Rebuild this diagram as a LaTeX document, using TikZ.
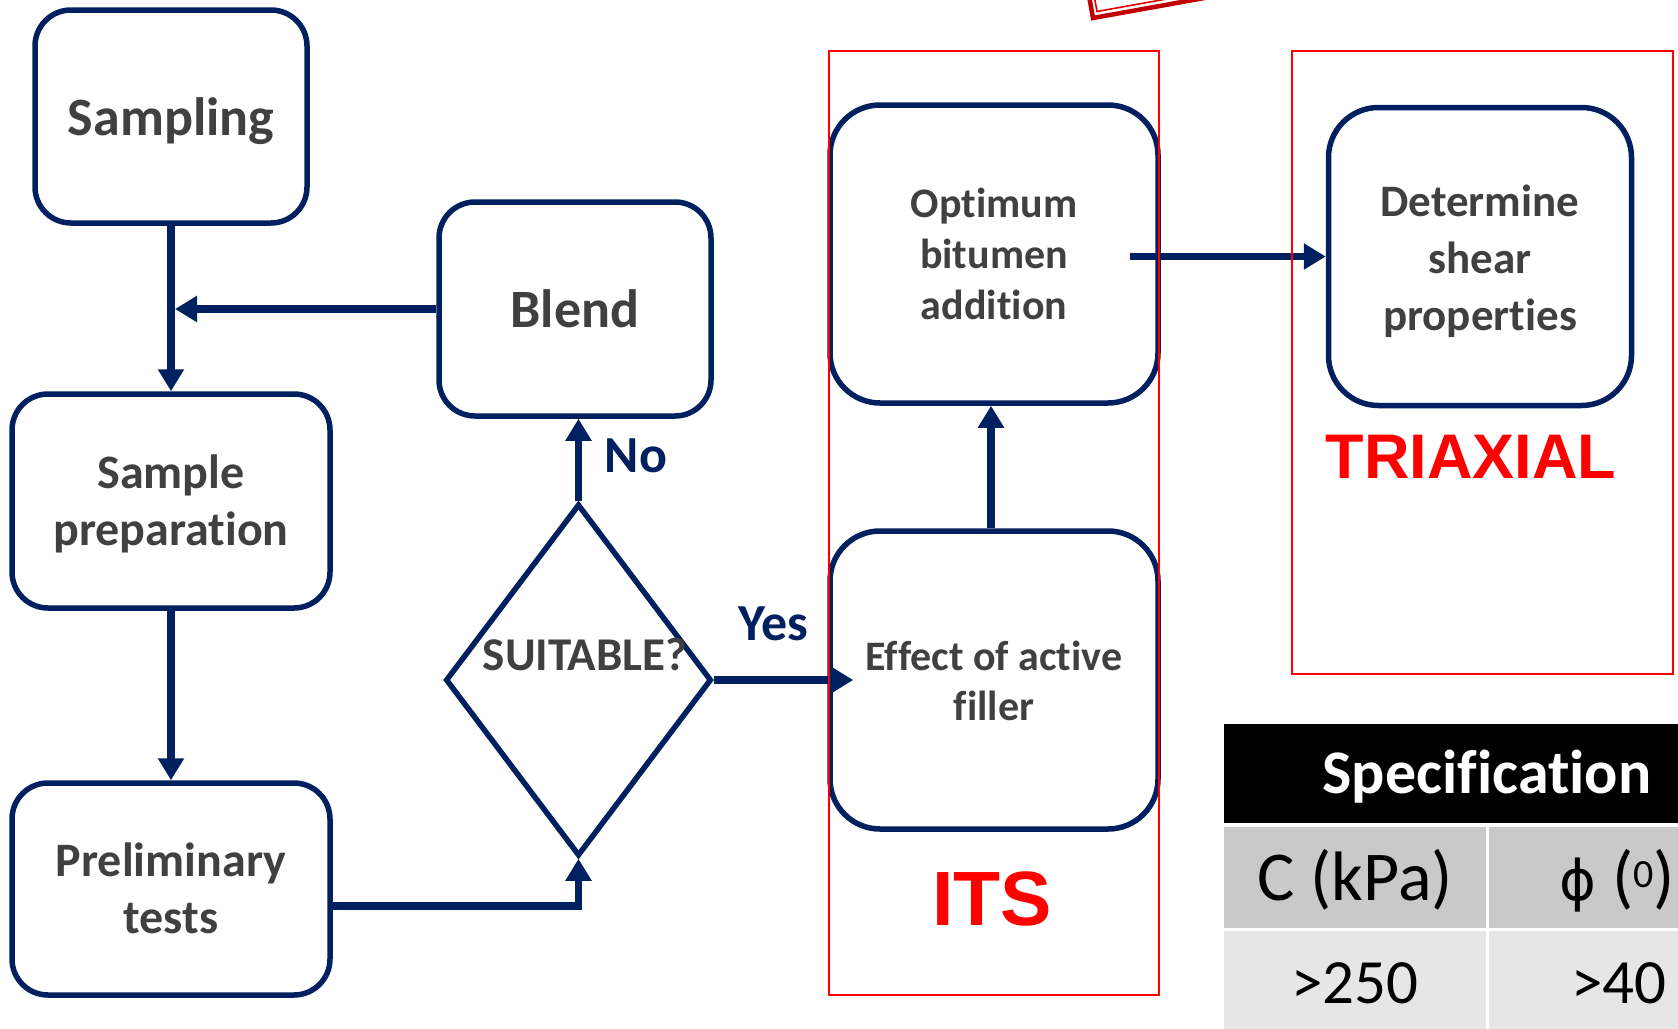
\documentclass[tikz,border=0pt]{standalone}
\usepackage{fontspec}
\setmainfont{Carlito}[Ligatures=NoCommon]
\newfontfamily\arialfont{Liberation Sans}
\newfontfamily\dejavu{DejaVu Sans}
\usetikzlibrary{arrows.meta,shapes.geometric,calc}
\definecolor{navy}{HTML}{002060}
\definecolor{txtgray}{HTML}{404040}
\definecolor{hdrgray}{HTML}{C9C9C9}
\definecolor{rowgray}{HTML}{E6E6E6}
\definecolor{dkred}{HTML}{C00000}
\newcommand{\boxtext}[4]{\fontsize{#2}{#3}\selectfont\raisebox{#1}[0pt][0pt]{\begin{tabular}[t]{@{}c@{}}#4\end{tabular}}}
\newcommand{\nolig}{\kern0pt{}}
\begin{document}
\begin{tikzpicture}[x=1pt,y=-1pt,
  rbox/.style={draw=navy, line width=5.5pt, rounded corners=#1, fill=white, inner sep=0pt, text=txtgray, font=\bfseries},
  rbox/.default=36pt,
  decision/.style={draw=navy, line width=5.5pt, diamond, fill=white, inner sep=0pt, minimum width=266pt, minimum height=352pt},
  arr/.style={draw=navy, line width=7.5pt, -{Triangle[length=22pt,width=25pt]}},
  redframe/.style={draw=red, line width=1.7pt, inner sep=0pt},
  answer/.style={text=navy, font=\bfseries\fontsize{52}{52}\selectfont, anchor=base, inner sep=0pt},
  testname/.style={text=red, font=\arialfont\bfseries\fontsize{#1}{#1}\selectfont, anchor=base, inner sep=0pt},
  cell/.style={anchor=base, inner sep=0pt, font=\fontsize{#1}{#1}\selectfont}
]
\useasboundingbox (0,0) rectangle (1678,1028);

% partial shape at top edge
\begin{scope}
  \clip (0,0) rectangle (1678,1028);
  \draw[dkred, line width=4.5pt, line join=miter] (1057.6,-178.8) -- (1093,18) -- (1486.6,-52.8);
  \draw[red!90!black, line width=1.6pt, line join=miter] (1079.3,-86.2) -- (1097,11.5) -- (1392.2,-41.6);
\end{scope}

% boxes
\node[rbox, minimum width=272pt, minimum height=213pt] (samp) at (171,116.5) {\boxtext{-18.5pt}{54}{65}{Sampling}};
\node[rbox, minimum width=318pt, minimum height=214pt] (prep) at (171,501) {\boxtext{13pt}{48}{57}{Sample\\preparat\nolig ion}};
\node[rbox, minimum width=318pt, minimum height=212pt] (prel) at (171,889) {\boxtext{13pt}{48}{57}{Preliminary\\tests}};
\node[rbox, minimum width=272pt, minimum height=214pt] (blend) at (575,309) {\boxtext{-18pt}{54}{65}{Blend}};
\node[rbox=50pt, minimum width=328pt, minimum height=298pt] (opt) at (994,254) {\boxtext{37pt}{42}{51}{Opt\nolig imum\\bitumen\\addit\nolig ion}};
\node[rbox=50pt, minimum width=328pt, minimum height=298pt] (eff) at (994,680) {\boxtext{10pt}{42}{50}{Effect of act\nolig ive\\f\nolig iller}};
\node[rbox=50pt, minimum width=303pt, minimum height=298pt] (det) at (1480,256.5) {\boxtext{40.5pt}{45}{57}{Determine\\shear\\propert\nolig ies}};
\node[decision] (suit) at (578.5,680) {};
\node[text=txtgray, font=\bfseries\fontsize{47}{47}\selectfont, inner sep=0pt] (suittxt) at (585,654) {SUITABLE?};

% connectors
\coordinate (jn) at (175,309);
\draw[arr] (samp.south) -- (prep.north);
\draw[arr] (blend.west) -- (jn);
\draw[arr] (prep.south) -- (prel.north);
\draw[arr] ($(prel.east)+(0,17)$) -| (suit.south);
\draw[arr] (suit.north) -- (suit.north |- blend.south);
\draw[arr] (suit.east) -- ($(eff.west)+(26,0)$);
\draw[arr] ([xshift=-3pt]eff.north) -- ([xshift=-3pt]opt.south);
\coordinate (os) at ([xshift=-31pt]opt.east);
\draw[arr] (os |- det.west) -- (det.west);

\node[answer] (no) at (636,472) {No};
\node[answer] (yes) at (773,640) {Yes};

% test frames
\node[redframe, minimum width=330pt, minimum height=944pt] (itsframe) at (994,523) {};
\node[redframe, minimum width=381pt, minimum height=623pt] (triframe) at (1482.5,362.5) {};
\node[testname=77] (its) at (992,925) {ITS};
\node[testname=63] (tri) at (1471,478) {TRIAXIAL};

% specification table
\begin{scope}
  \clip (0,0) rectangle (1678,1028);
  \fill[black] (1224,724) rectangle (1760,823);
  \fill[hdrgray] (1224,827) rectangle (1486,928);
  \fill[hdrgray] (1489,827) rectangle (1760,928);
  \fill[rowgray] (1224,931) rectangle (1486,1040);
  \fill[rowgray] (1489,931) rectangle (1760,1040);
  \node[anchor=base, inner sep=0pt, text=white, font={\bfseries\fontsize{62}{62}\selectfont}] (spec) at (1487,793) {Speci\nolig f\nolig icat\nolig ion};
  \node[cell=70] (ckpa) at (1355,900) {C (kPa)};
  \node[cell=70] (phi) at (1617,900) {{\dejavu\fontsize{56}{56}\selectfont ϕ} (\raisebox{13pt}{\fontsize{40}{40}\selectfont 0})};
  \node[cell=63] (cval) at (1355,1003) {>250};
  \node[cell=63] (phival) at (1619,1003) {>40};
\end{scope}
\end{tikzpicture}
\end{document}
